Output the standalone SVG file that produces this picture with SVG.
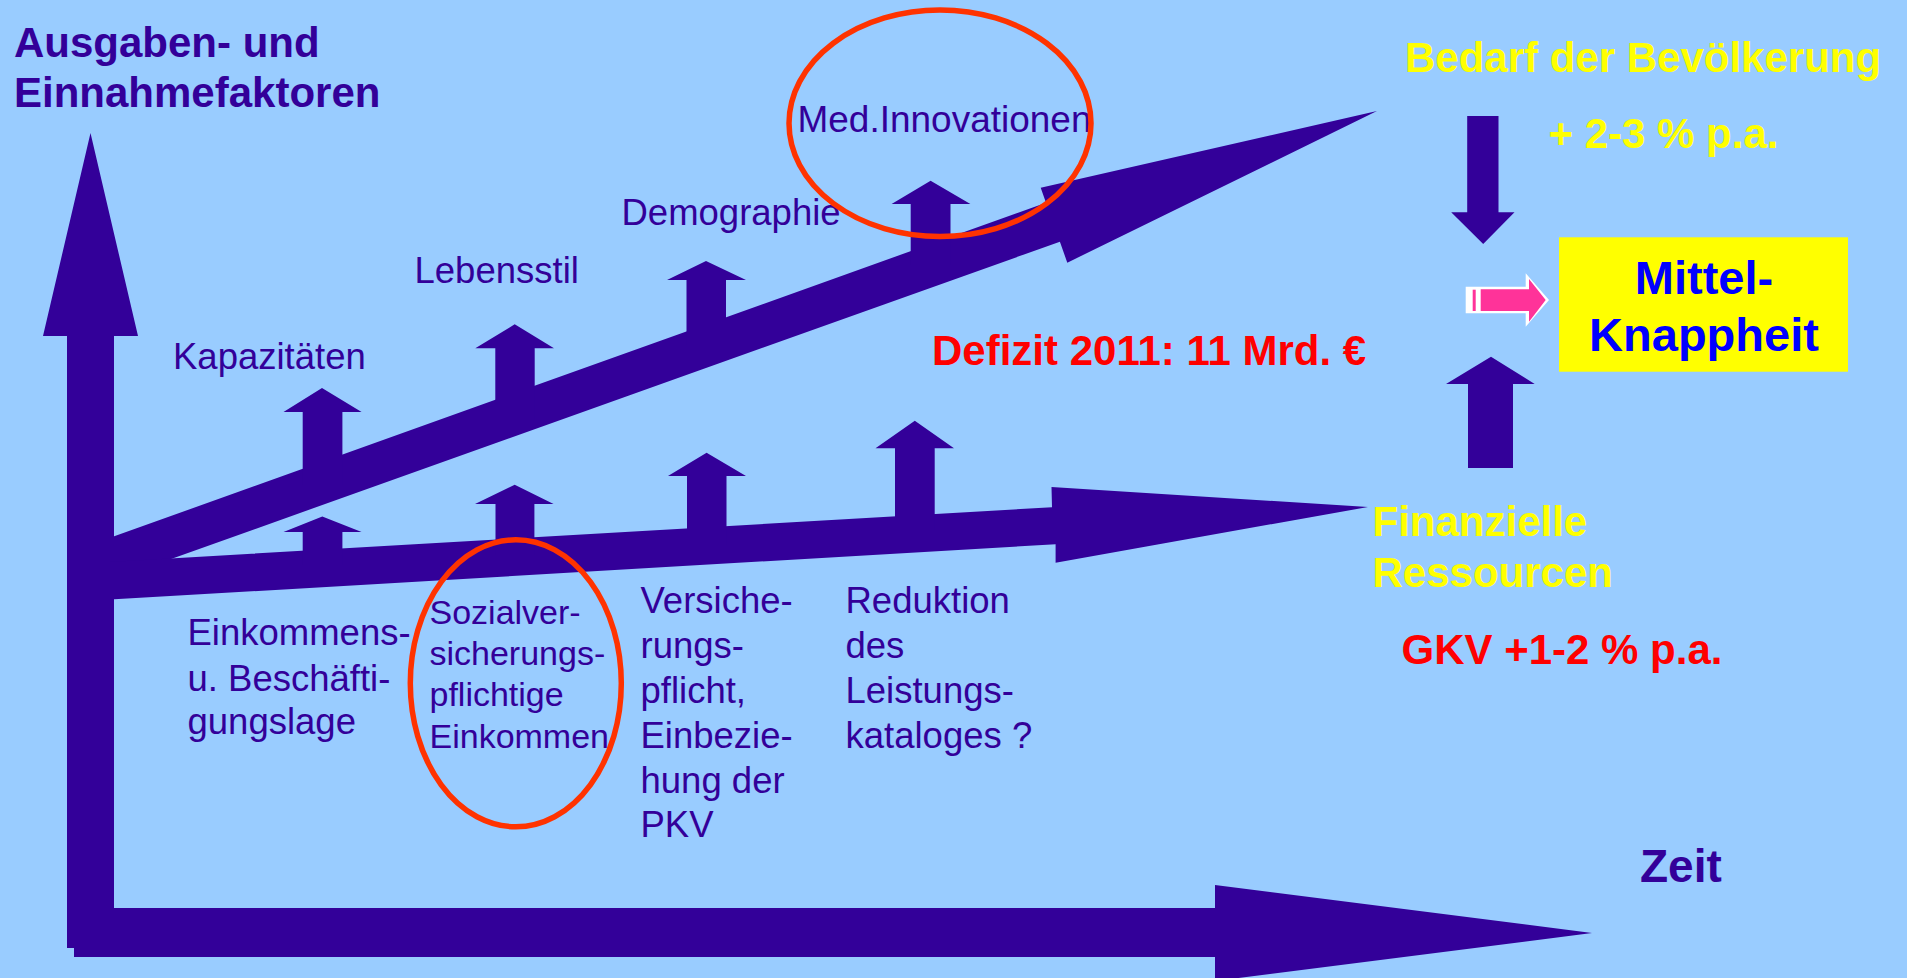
<svg xmlns="http://www.w3.org/2000/svg" width="1907" height="978" viewBox="0 0 1907 978">
<defs>
<style>
.arr{fill:#330099}
.reg{font-family:"Liberation Sans",Arial,sans-serif;font-size:36.5px;fill:#330099}
.bold{font-family:"Liberation Sans",Arial,sans-serif;font-weight:bold;font-size:42px}
.pur{fill:#330099}
.yel{fill:#FFFF00}
.red{fill:#FF0000}
.ring{fill:none;stroke:#FF3300;stroke-width:5.5}
</style>
</defs>
<rect x="0" y="0" width="1907" height="978" fill="#99CCFF"/>

<g id="connectors">
  <!-- vertical axis -->
  <polygon class="arr" points="67,948 67,336 43,336 90.5,133 138,336 114,336 114,948"/>
  <!-- horizontal axis -->
  <polygon class="arr" points="74,908 1215,908 1215,885 1592,933 1215,981 1215,957 74,957"/>
  <!-- expenditure arrow -->
  <polygon class="arr" points="110,537.8 1046,202.7 1040.7,187.7 1377,111 1067.3,262.7 1059.9,241.7 110,580.8"/>
  <!-- income arrow -->
  <polygon class="arr" points="110,561.9 1052,507.2 1051.5,487 1368,507 1055.6,562.7 1055.6,544.2 110,599.6"/>
  <!-- small up arrows on expenditure arrow -->
  <polygon class="arr" points="302.7,485 302.7,412 283.5,412 322,388 361.6,412 342.4,412 342.4,485"/>
  <polygon class="arr" points="495.3,420 495.3,348.3 475.3,348.3 514.7,324.3 554,348.3 534.7,348.3 534.7,420"/>
  <polygon class="arr" points="686.5,345 686.5,280 667,280 706,261 746,280 726,280 726,345"/>
  <polygon class="arr" points="910.7,265 910.7,204 891.6,204 930.6,180.7 970.4,204 950.5,204 950.5,265"/>
  <!-- small up arrows on income arrow -->
  <polygon class="arr" points="302.7,565 302.7,532 283.5,532 322.3,516.5 361.6,532 342.4,532 342.4,565"/>
  <polygon class="arr" points="495.5,555 495.5,504 475,504 514.7,484.8 553.6,504 534.4,504 534.4,555"/>
  <polygon class="arr" points="687,545 687,476 668,476 706.6,452.7 746,476 726.5,476 726.5,545"/>
  <polygon class="arr" points="895,530 895,448.3 875.5,448.3 914.8,420.7 954,448.3 934.7,448.3 934.7,530"/>
  <!-- right side arrows -->
  <polygon class="arr" points="1467.2,116 1498.5,116 1498.5,212.3 1514.5,212.3 1483.2,244 1451.2,212.3 1467.2,212.3"/>
  <polygon class="arr" points="1468,468 1468,384 1446,384 1491,356.7 1534.7,384 1513,384 1513,468"/>
  <!-- pink striped arrow -->
  <polygon fill="#FFFFFF" points="1465.7,286.7 1525.7,286.7 1525.7,273.3 1549,300 1525.7,326.7 1525.7,313.3 1465.7,313.3"/>
  <rect x="1472.7" y="289.7" width="3" height="21.3" fill="#FF3399"/>
  <polygon fill="#FF3399" points="1480.7,289.3 1529,289.3 1529,279 1545.7,300 1529,321.7 1529,311 1480.7,311"/>
</g>

<g id="axis-y-label">
  <text class="bold pur" x="14" y="56.7">Ausgaben- und</text>
  <text class="bold pur" x="14" y="107.3">Einnahmefaktoren</text>
</g>
<g id="kapazitaeten"><text class="reg" x="173" y="369.3">Kapazitäten</text></g>
<g id="lebensstil"><text class="reg" x="414.5" y="282.7">Lebensstil</text></g>
<g id="demographie"><text class="reg" x="621.5" y="225">Demographie</text></g>
<g id="med-innovationen">
  <text class="reg" x="797.5" y="131.7" textLength="294" lengthAdjust="spacingAndGlyphs">Med.Innovationen</text>
  <ellipse class="ring" cx="940" cy="123.3" rx="151" ry="113.3"/>
</g>
<g id="einkommenslage">
  <text class="reg" x="187.5" y="645">Einkommens-</text>
  <text class="reg" x="187.5" y="690.5">u. Beschäfti-</text>
  <text class="reg" x="187.5" y="733.6">gungslage</text>
</g>
<g id="sozialversicherung">
  <text class="reg" style="font-size:34px" x="429.5" y="623.7">Sozialver-</text>
  <text class="reg" style="font-size:34px" x="429.5" y="664.7">sicherungs-</text>
  <text class="reg" style="font-size:34px" x="429.5" y="706">pflichtige</text>
  <text class="reg" style="font-size:34px" x="429.5" y="748.3">Einkommen</text>
  <ellipse class="ring" cx="515.8" cy="683.3" rx="105.5" ry="143.5"/>
</g>
<g id="versicherungspflicht">
  <text class="reg" x="640.5" y="613.3">Versiche-</text>
  <text class="reg" x="640.5" y="658.3">rungs-</text>
  <text class="reg" x="640.5" y="703.3">pflicht,</text>
  <text class="reg" x="640.5" y="748.3">Einbezie-</text>
  <text class="reg" x="640.5" y="792.7">hung der</text>
  <text class="reg" x="640.5" y="836.7">PKV</text>
</g>
<g id="reduktion">
  <text class="reg" x="845.5" y="613.3">Reduktion</text>
  <text class="reg" x="845.5" y="658.3">des</text>
  <text class="reg" x="845.5" y="703.3">Leistungs-</text>
  <text class="reg" x="845.5" y="748.3">kataloges ?</text>
</g>
<g id="defizit"><text class="bold red" x="932" y="365">Defizit 2011: 11 Mrd. €</text></g>
<g id="bedarf">
  <text class="bold yel" x="1405" y="71.7">Bedarf der Bevölkerung</text>
  <text class="bold yel" x="1548.5" y="148.3">+ 2-3 % p.a.</text>
</g>
<g id="mittelknappheit">
  <rect x="1559" y="237.3" width="289" height="134.4" fill="#FFFF00"/>
  <text class="bold" style="font-size:47px;fill:#0000FF" x="1704" y="294" text-anchor="middle">Mittel-</text>
  <text class="bold" style="font-size:47px;fill:#0000FF" x="1704" y="350.7" text-anchor="middle">Knappheit</text>
</g>
<g id="finanzielle-ressourcen">
  <text class="bold yel" x="1372.5" y="536.4">Finanzielle</text>
  <text class="bold yel" x="1372.5" y="587.2">Ressourcen</text>
</g>
<g id="gkv"><text class="bold red" x="1401.5" y="663.5">GKV +1-2 % p.a.</text></g>
<g id="zeit"><text class="bold pur" style="font-size:46px" x="1640" y="882">Zeit</text></g>
</svg>
